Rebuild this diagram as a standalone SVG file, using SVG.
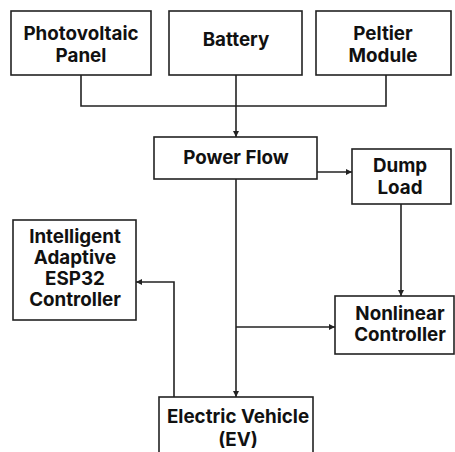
<svg xmlns="http://www.w3.org/2000/svg" width="455" height="452" viewBox="0 0 455 452">
<defs>
<style>
.box{fill:#fff;stroke:#222;stroke-width:1.6}
.t{font-family:Inter,"Liberation Sans",sans-serif;font-weight:700;font-size:18.8px;fill:#111;text-anchor:middle}
.c{fill:none;stroke:#222;stroke-width:1.6}
</style>
<marker id="a" viewBox="0 0 10 10" refX="10" refY="5" markerWidth="6" markerHeight="6" orient="auto" markerUnits="userSpaceOnUse"><path d="M0,0 L10,5 L0,10 z" fill="#222"/></marker>
</defs>
<rect width="455" height="452" fill="#fff"/>
<g id="connectors">
<polyline class="c" points="81,75 81,106 386,106 386,75"/>
<line class="c" x1="236" y1="75" x2="236" y2="137" marker-end="url(#a)"/>
<line class="c" x1="317" y1="172" x2="352" y2="172" marker-end="url(#a)"/>
<line class="c" x1="401" y1="204" x2="401" y2="296" marker-end="url(#a)"/>
<line class="c" x1="236" y1="179" x2="236" y2="397" marker-end="url(#a)"/>
<line class="c" x1="236" y1="327" x2="335" y2="327" marker-end="url(#a)"/>
<polyline class="c" points="174,397 174,282 136,282" marker-end="url(#a)"/>
</g>
<g id="pv"><rect class="box" x="11" y="11" width="140" height="64"/><text class="t" x="81" y="40">Photovoltaic</text><text class="t" x="81" y="62">Panel</text></g>
<g id="battery"><rect class="box" x="169" y="11" width="133" height="64"/><text class="t" x="236" y="46">Battery</text></g>
<g id="peltier"><rect class="box" x="316" y="11" width="135" height="64"/><text class="t" x="383" y="40">Peltier</text><text class="t" x="383" y="62">Module</text></g>
<g id="powerflow"><rect class="box" x="154" y="137" width="163" height="42"/><text class="t" x="236" y="164">Power Flow</text></g>
<g id="dumpload"><rect class="box" x="352" y="149" width="99" height="55"/><text class="t" x="400" y="172">Dump</text><text class="t" x="400" y="194">Load</text></g>
<g id="esp32"><rect class="box" x="13" y="220" width="123" height="100"/><text class="t" x="75" y="243">Intelligent</text><text class="t" x="75" y="264">Adaptive</text><text class="t" x="75" y="285">ESP32</text><text class="t" x="75" y="306">Controller</text></g>
<g id="nonlinear"><rect class="box" x="335" y="296" width="119" height="58"/><text class="t" x="400" y="320">Nonlinear</text><text class="t" x="400" y="341">Controller</text></g>
<g id="ev"><rect class="box" x="159" y="397" width="154" height="70"/><text class="t" x="238" y="423">Electric Vehicle</text><text class="t" x="238" y="446">(EV)</text></g>
</svg>
